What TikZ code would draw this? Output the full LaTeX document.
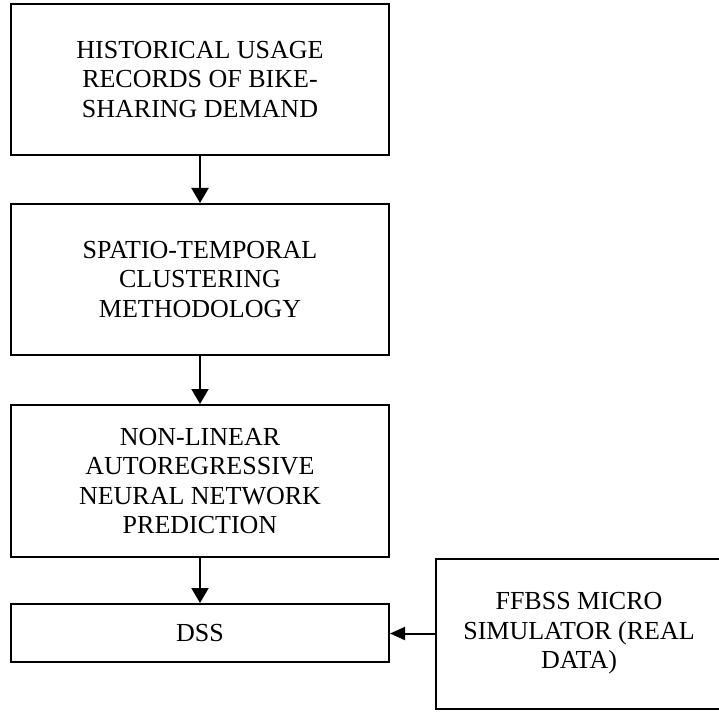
\documentclass[tikz,border=0pt]{standalone}
\usepackage{fontspec}
\setmainfont{Liberation Serif}
\usetikzlibrary{arrows.meta}
\begin{document}
\begin{tikzpicture}[x=1pt,y=-1pt,
  blk/.style={draw=black, line width=2pt, inner sep=0pt, align=center,
    font=\fontsize{26}{29.5}\selectfont},
  varr/.style={line width=2pt, -{Triangle[length=15pt,width=17pt]}},
  harr/.style={line width=2pt, -{Triangle[length=15pt,width=13pt]}}]
\useasboundingbox (0,0) rectangle (719,711);
\node[blk, minimum width=378pt, minimum height=151pt] (b1) at (200,79.5)
  {HISTORICAL USAGE\\RECORDS OF BIKE-\\SHARING DEMAND};
\node[blk, minimum width=378pt, minimum height=151pt] (b2) at (200,279.5)
  {SPATIO-TEMPORAL\\CLUSTERING\\METHODOLOGY};
\node[blk, minimum width=378pt, minimum height=152pt] (b3) at (200,481)
  {NON-LINEAR\\AUTOREGRESSIVE\\NEURAL NETWORK\\PREDICTION};
\node[blk, minimum width=378pt, minimum height=58pt] (dss) at (200,633)
  {DSS};
\node[blk, minimum width=286pt, minimum height=150pt] (b5) at (579,633.5)
  {FFBSS MICRO\\SIMULATOR (REAL\\DATA)};
\draw[varr] (b1) -- (b2);
\draw[varr] (b2) -- (b3);
\draw[varr] (b3) -- (dss);
\draw[harr] (b5.west) -- (b5.west -| dss.east);
\end{tikzpicture}
\end{document}
